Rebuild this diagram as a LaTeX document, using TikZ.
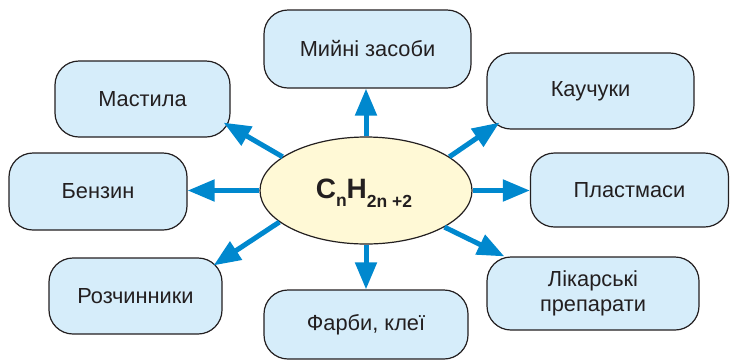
\documentclass[tikz,border=0pt]{standalone}
\usepackage{fontspec}
\setmainfont{Liberation Sans}
\usetikzlibrary{arrows.meta,shapes.geometric}
\definecolor{boxfill}{RGB}{214,237,250}
\definecolor{ellfill}{RGB}{255,249,214}
\definecolor{arrblue}{RGB}{0,136,206}
\definecolor{ink}{RGB}{35,31,32}
\begin{document}
\begin{tikzpicture}[x=1pt,y=-1pt,
  boxnode/.style={draw=ink, line width=1.2pt, fill=boxfill, rounded corners=24pt,
    inner sep=0pt, text=ink, align=center,
    font=\fontsize{21.8}{24.5}\selectfont},
  arr/.style={draw=arrblue, line width=5pt,
    -{Triangle[length=27pt,width=21pt]}}]
\useasboundingbox (0,0) rectangle (730,360);
% centre
\node[draw=ink, line width=1.2pt, fill=ellfill, ellipse, minimum width=212pt, minimum height=107pt, inner sep=0pt] (c) at (366,190.5) {};
\node[text=ink, font=\bfseries\fontsize{28}{30}\selectfont] (f) at (364,193)
  {C\raisebox{-8pt}{\fontsize{17.5}{17.5}\selectfont n}H\raisebox{-8.5pt}{\fontsize{17.5}{17.5}\selectfont 2n +2}};
% boxes
\node[boxnode, minimum width=207pt, minimum height=78pt] (myin) at (367.5,49) {Мийні засоби};
\node[boxnode, minimum width=175pt, minimum height=76pt] (mast) at (142.5,99) {Мастила};
\node[boxnode, minimum width=178pt, minimum height=77pt] (benz) at (98,191.5) {Бензин};
\node[boxnode, minimum width=173pt, minimum height=76pt] (rozch) at (135.5,296) {Розчинники};
\node[boxnode, minimum width=204pt, minimum height=69pt] (farb) at (366,324.5) {Фарби, клеї};
\node[boxnode, minimum width=207pt, minimum height=76pt] (kauch) at (590.5,91) {Каучуки};
\node[boxnode, minimum width=198pt, minimum height=74pt] (plast) at (629.5,190) {Пластмаси};
\node[boxnode, minimum width=212pt, minimum height=73pt] (lik) at (593,293.5) {Лікарські\\препарати};
% arrows
\draw[arr] (c.north) -- (c.north |- myin.south);
\draw[arr] (c.158) -- ([shift={(-7,-15)}]mast.south east);
\draw[arr] (c.west) -- (c.west -| benz.east);
\draw[arr] (c.200) -- ([shift={(-9,8)}]rozch.north east);
\draw[arr] (c.south) -- (c.south |- farb.north);
\draw[arr] (c.22) -- ([shift={(13,-7)}]kauch.south west);
\draw[arr] (c.east) -- (c.east -| plast.west);
\draw[arr] (c.-25) -- ([shift={(18,0)}]lik.north west);
\end{tikzpicture}
\end{document}
